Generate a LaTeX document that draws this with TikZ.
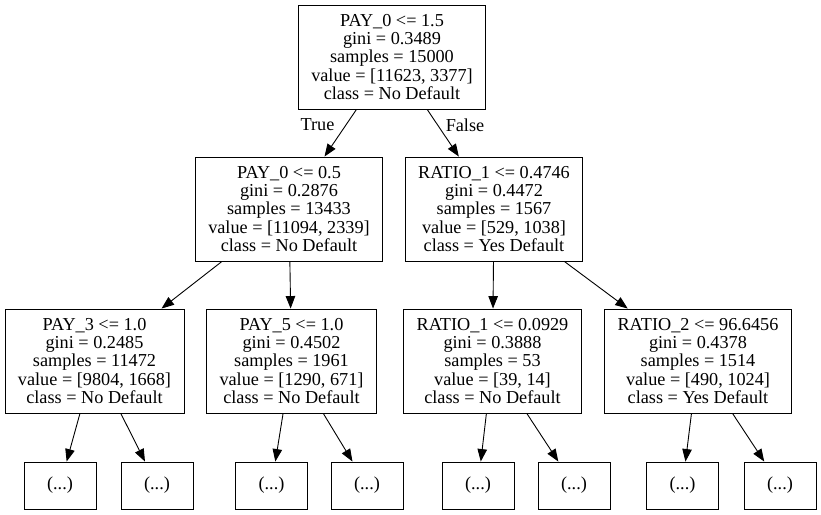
\documentclass[tikz,border=0pt]{standalone}
\usepackage{fontspec}
\setmainfont{Liberation Serif}
\usetikzlibrary{arrows.meta}

\begin{document}
\begin{tikzpicture}[x=1bp,y=-1bp,
        split/.style={draw,line width=0.9bp,align=center,inner xsep=13bp,minimum height=104bp,
            font=\fontsize{18.3}{18.5}\selectfont},
        leaf/.style={draw,line width=0.9bp,minimum width=72bp,minimum height=47bp,
            font=\fontsize{18.3}{18.5}\selectfont},
        edge/.style={-{Triangle[length=12.5bp,width=9.5bp]},line width=0.9bp}]
            \useasboundingbox (0,0) rectangle (821,515);

            \node[split] (root) at (392,57) {PAY\_0 <= 1.5\\gini = 0.3489\\samples = 15000\\value = [11623, 3377]\\class = No Default};
            \node[split] (l) at (289,209) {PAY\_0 <= 0.5\\gini = 0.2876\\samples = 13433\\value = [11094, 2339]\\class = No Default};
            \node[split] (r) at (494,209) {RATIO\_1 <= 0.4746\\gini = 0.4472\\samples = 1567\\value = [529, 1038]\\class = Yes Default};

            \node[split] (ll) at (94.5,361) {PAY\_3 <= 1.0\\gini = 0.2485\\samples = 11472\\value = [9804, 1668]\\class = No Default};
            \node[split] (lr) at (291.5,361) {PAY\_5 <= 1.0\\gini = 0.4502\\samples = 1961\\value = [1290, 671]\\class = No Default};
            \node[split] (rl) at (492.5,361) {RATIO\_1 <= 0.0929\\gini = 0.3888\\samples = 53\\value = [39, 14]\\class = No Default};
            \node[split] (rr) at (698,361) {RATIO\_2 <= 96.6456\\gini = 0.4378\\samples = 1514\\value = [490, 1024]\\class = Yes Default};

            \node[leaf] (ll1) at (60,485.5) {(...)};
            \node[leaf] (ll2) at (157,485.5) {(...)};
            \node[leaf] (lr1) at (271.5,485.5) {(...)};
            \node[leaf] (lr2) at (367,485.5) {(...)};
            \node[leaf] (rl1) at (478,485.5) {(...)};
            \node[leaf] (rl2) at (574,485.5) {(...)};
            \node[leaf] (rr1) at (682.5,485.5) {(...)};
            \node[leaf] (rr2) at (780,485.5) {(...)};

            \draw[edge] (root) -- (l);
            \draw[edge] (root) -- (r);
            \node[font=\fontsize{18.3}{18.5}\selectfont] (true) at (317.5,125) {True};
            \node[font=\fontsize{18.3}{18.5}\selectfont] (false) at (465,125) {False};

            \draw[edge] (l) -- (ll);
            \draw[edge] (l) -- (lr);
            \draw[edge] (r) -- (rl);
            \draw[edge] (r) -- (rr);

            \draw[edge] (ll) -- (ll1);
            \draw[edge] (ll) -- (ll2);
            \draw[edge] (lr) -- (lr1);
            \draw[edge] (lr) -- (lr2);
            \draw[edge] (rl) -- (rl1);
            \draw[edge] (rl) -- (rl2);
            \draw[edge] (rr) -- (rr1);
            \draw[edge] (rr) -- (rr2);
        \end{tikzpicture}
\end{document}
